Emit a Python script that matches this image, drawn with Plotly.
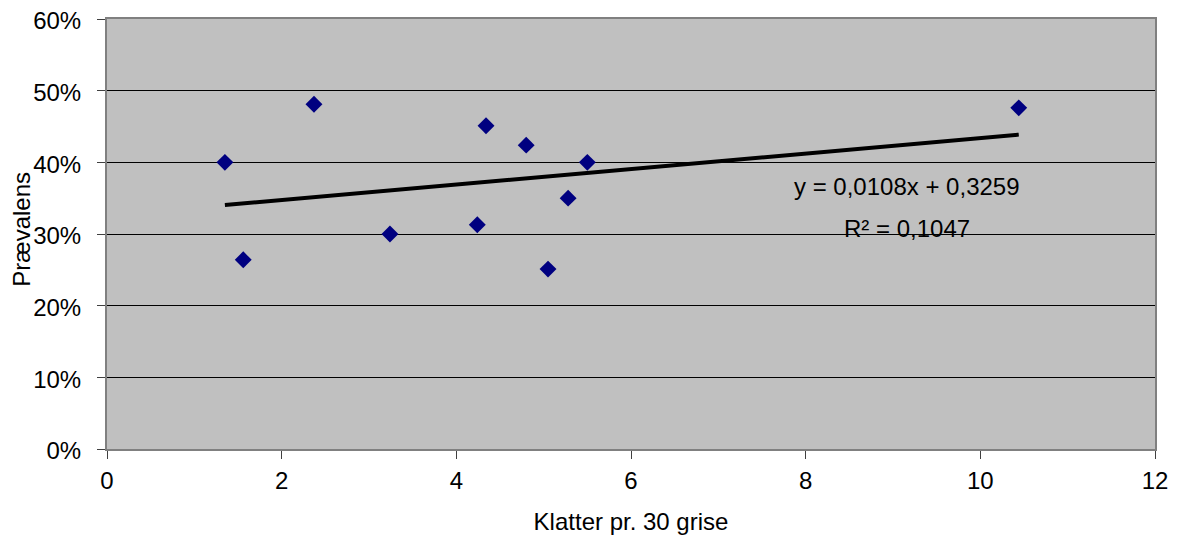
import plotly.graph_objects as go

klatter = [1.35, 1.56, 2.37, 3.24, 4.24, 4.34, 4.80, 5.05, 5.28, 5.50, 10.44]
praevalens = [0.400, 0.264, 0.481, 0.300, 0.313, 0.451, 0.424, 0.251, 0.350, 0.400, 0.476]
slope = 0.0108
intercept = 0.3259
r2_text = "R² = 0,1047"
eq_text = "y = 0,0108x + 0,3259"

x_min, x_max = min(klatter), max(klatter)
trend_x = [x_min, x_max]
trend_y = [slope * v + intercept for v in trend_x]

font = "Liberation Sans, Arial, sans-serif"
fs = 24
L, R, T, B = 99, 23, 11, 86
W, H = 1170, 527

fig = go.Figure()
fig.add_trace(go.Scatter(
    x=klatter, y=praevalens, mode="markers",
    marker=dict(symbol="diamond", size=13, color="#000080"),
    showlegend=False, hoverinfo="skip"))
fig.add_trace(go.Scatter(
    x=trend_x, y=trend_y, mode="lines",
    line=dict(color="black", width=4),
    showlegend=False, hoverinfo="skip"))

fig.add_annotation(x=9.16, y=0.366, text=eq_text, showarrow=False,
                   font=dict(family=font, size=fs, color="black"))
fig.add_annotation(x=9.16, y=0.308, text=r2_text, showarrow=False,
                   font=dict(family=font, size=fs, color="black"))
# y-axis title
fig.add_annotation(xref="paper", yref="paper", x=(14 - L) / (W - L - R), y=0.51,
                   xanchor="center", yanchor="middle", textangle=-90,
                   text="Prævalens", showarrow=False,
                   font=dict(family=font, size=fs, color="black"))

fig.update_layout(
    width=W, height=H,
    margin=dict(l=L, r=R, t=T, b=B, autoexpand=False),
    paper_bgcolor="white", plot_bgcolor="#C0C0C0",
    font=dict(family=font, size=fs, color="black"),
    xaxis=dict(range=[0, 12], dtick=2, tick0=0, showgrid=False, zeroline=False,
               showline=True, linecolor="#808080", linewidth=2, mirror=True,
               ticks="outside", ticklen=8, tickcolor="#404040",
               ticklabelstandoff=1, automargin=False,
               title=dict(text="Klatter pr. 30 grise", standoff=20,
                          font=dict(family=font, size=fs))),
    yaxis=dict(range=[0, 0.6], dtick=0.1, tickformat=".0%", showgrid=True,
               gridcolor="black", gridwidth=1, zeroline=False,
               showline=True, linecolor="#808080", linewidth=2, mirror=True,
               ticks="outside", ticklen=8, tickcolor="#404040",
               ticklabelstandoff=11, ticklabelshift=2,
               ticklabeloverflow="allow", automargin=False),
)

fig.write_html("out.html")
